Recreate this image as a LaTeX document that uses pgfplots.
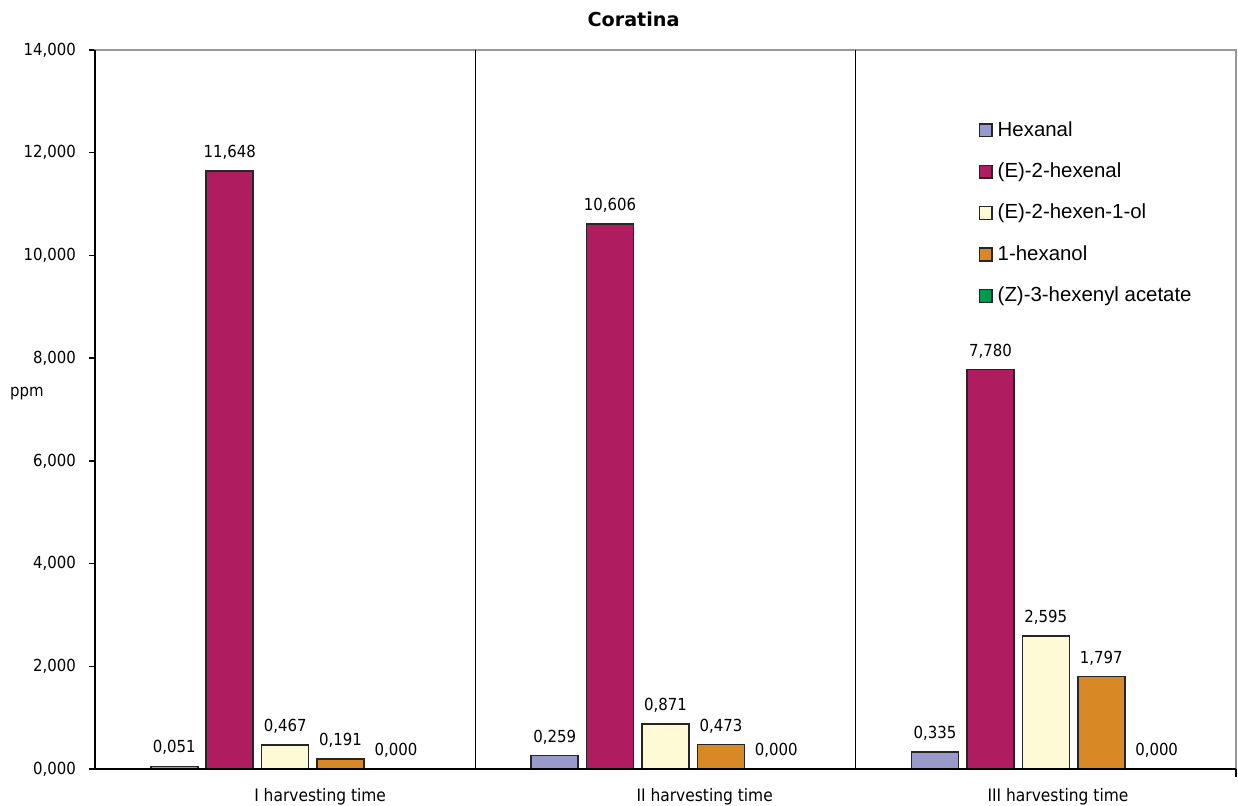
\documentclass[border=0pt]{standalone}
\usepackage{fontspec}
\setmainfont{DejaVu Sans Condensed}
\newfontfamily\legfont{Liberation Sans}
\newfontfamily\titfont{DejaVu Sans}
\usepackage{pgfplots}
\pgfplotsset{compat=1.18}
\definecolor{chex}{RGB}{153,153,204}
\definecolor{ctwo}{RGB}{176,28,96}
\definecolor{col}{RGB}{255,250,214}
\definecolor{cnol}{RGB}{217,136,38}
\definecolor{cz}{RGB}{0,153,76}
\pgfplotsset{mybar/.style={draw=black!85, line width=0.8pt, fill=#1,
  legend image code/.code={\draw[##1, line width=0.7pt] (0pt,-3.2pt) rectangle (6.4pt,3.2pt);}}}
\begin{document}
\begin{tikzpicture}
\useasboundingbox (0,0) rectangle (619pt,403pt);
\begin{axis}[
  at={(47.5pt,18.5pt)}, anchor=south west,
  scale only axis, width=570.5pt, height=359.5pt,
  xmin=0, xmax=3, ymin=0, ymax=14,
  ybar=4.2pt, bar width=23.5pt,
  axis line style={draw=black!40, line width=1pt},
  ytick={0,2,...,14}, ytick pos=left, tick align=outside,
  major tick length=3pt,
  y tick style={black, line width=0.7pt},
  yticklabel style={font=\fontsize{8.3}{10}\selectfont, xshift=-3pt},
  /pgf/number format/.cd, fixed, fixed zerofill, precision=3, use comma, assume math mode=true,
  /pgfplots/.cd,
  xtick={0.592,1.603,2.532},
  xticklabels={I harvesting time, II harvesting time, III harvesting time},
  x tick style={draw=none},
  xticklabel style={font=\fontsize{8.6}{10}\selectfont, yshift=-3pt},
  extra x ticks={1,2},
  extra x tick labels={},
  extra x tick style={grid=major, major grid style={black, line width=0.8pt}, tick style={draw=black, line width=0.8pt}, major tick length=4pt},
  nodes near coords,
  every node near coord/.append style={font=\fontsize{8.3}{10}\selectfont, yshift=2pt, black},
  legend style={draw=none, fill=none, at={(0.774,0.904)}, anchor=north west,
    font=\legfont\fontsize{10.2}{12}\selectfont, row sep=9.8pt, inner sep=0pt,
    column sep=1.5pt,
    nodes={inner sep=1pt}},
  legend cell align=left,
  clip=false,
]
\addplot[mybar=chex] coordinates {(0.5,0.051) (1.5,0.259) (2.5,0.335)};
\addlegendentry{Hexanal}
\addplot[mybar=ctwo] coordinates {(0.5,11.648) (1.5,10.606) (2.5,7.780)};
\addlegendentry{(E)-2-hexenal}
\addplot[mybar=col] coordinates {(0.5,0.467) (1.5,0.871) (2.5,2.595)};
\addlegendentry{(E)-2-hexen-1-ol}
\addplot[mybar=cnol] coordinates {(0.5,0.191) (1.5,0.473) (2.5,1.797)};
\addlegendentry{1-hexanol}
\addplot[mybar=cz] coordinates {(0.5,0) (1.5,0) (2.5,0)};
\addlegendentry{(Z)-3-hexenyl acetate}
\draw[black, line width=0.8pt] (rel axis cs:0,1) -- (rel axis cs:0,0) -- (rel axis cs:1,0);
\draw[black, line width=0.8pt] (rel axis cs:1,0) -- ++(0,-4pt);
\node at (axis description cs:-0.0596,0.522) {\fontsize{8.3}{10}\selectfont ppm};
\node[anchor=base, yshift=11.5pt, font=\titfont\bfseries\fontsize{9.6}{11}\selectfont] at (axis description cs:0.472,1) {Coratina};
\end{axis}
\end{tikzpicture}
\end{document}
